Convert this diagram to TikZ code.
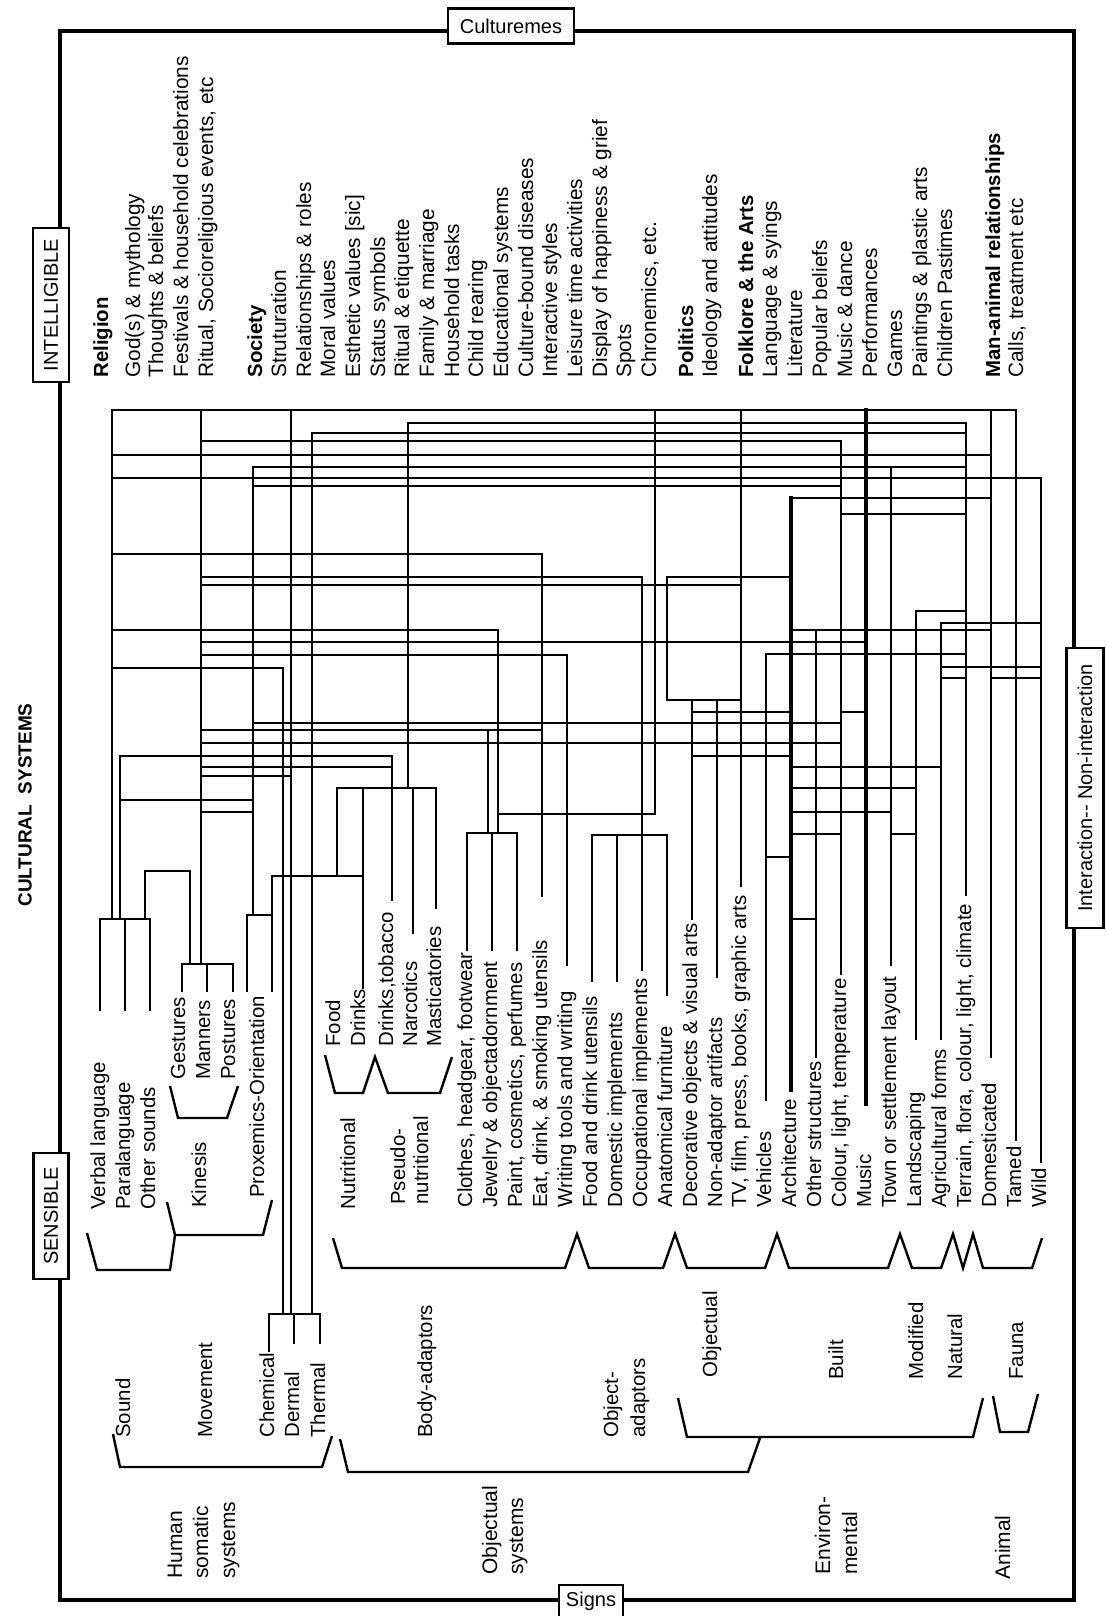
\documentclass[tikz,border=0pt]{standalone}
\usepackage{fontspec}
\newfontfamily\lsans{Liberation Sans}
\begin{document}
\begin{tikzpicture}[x=0.5pt,y=-0.5pt,
  wire/.style={line width=1.2pt,line cap=rect},
  twire/.style={line width=1.9pt,line cap=rect},
  brk/.style={line width=1.2pt,line join=miter},
  lab/.style={rotate=90,anchor=west,inner sep=0pt,text height=7pt,text depth=2pt,font=\lsans\fontsize{10.2}{12}\selectfont},
  ilab/.style={lab,font=\lsans\fontsize{10.4}{12}\selectfont},
  blab/.style={lab,font=\lsans\bfseries\fontsize{10.2}{12}\selectfont},
  glab/.style={lab,font=\lsans\fontsize{10.5}{12}\selectfont},
  tag/.style={draw,line width=1.4pt,fill=white,inner sep=0pt,font=\lsans\fontsize{10}{12}\selectfont},
]
\useasboundingbox (0,0) rectangle (1105,1616);
\fill[white] (0,0) rectangle (1105,1616);
% frame
\draw[line width=1.6pt] (60,31) rectangle (1074,1600);

% ---------------- wires: verticals
\foreach \x/\a/\b in {112/410/919, 201/410/964, 291/410/1314, 655/410/814,
  741/410/886, 991/410/1057, 1016/410/1140, 312/433/1314, 253/467/915,
  408/423/788, 966/423/895, 841/441/974, 891/467/965, 1041/478/1162,
  542/554/896, 642/577/970, 667/577/700, 916/611/1039, 941/623/1039,
  816/630/1057, 498/630/833, 567/655/965, 283/668/1314, 766/654/1100,
  692/700/919, 717/700/977, 120/756/919, 488/730/833, 392/756/900,
  337/788/876, 363/788/988, 413/788/933, 436/788/908, 145/871/919,
  190/871/964, 272/876/991, 247/915/991, 100/919/1010, 125/919/1010,
  150/919/1010, 182/964/991, 207/964/991, 233/964/991, 467/833/950,
  492/833/950, 517/833/950, 592/835/981, 617/835/981, 667/835/995,
  269/1314/1351, 294/1314/1343, 320/1314/1343}
  \draw[wire] (\x,\a) -- (\x,\b);
\foreach \x/\a/\b in {866/410/1104, 791/498/1090}
  \draw[twire] (\x,\a) -- (\x,\b);
% ---------------- wires: horizontals
\foreach \y/\a/\b in {410/112/1016, 423/408/966, 433/312/966, 441/201/841,
  455/112/991, 467/253/966, 478/112/1041, 486/253/841, 498/791/991,
  514/841/966, 554/112/542, 577/201/642, 577/667/791, 585/201/741,
  611/916/966, 623/941/1041, 630/112/498, 630/791/991, 642/201/866,
  654/766/966, 655/201/567, 667/941/1041, 668/112/283, 678/941/966,
  678/991/1041, 700/667/741, 712/692/791, 712/841/866, 723/253/841,
  730/201/542, 743/201/841, 756/120/392, 756/692/791, 767/201/392,
  767/791/941, 776/201/291, 788/337/436, 788/791/916, 800/120/253,
  812/201/253, 812/791/891, 814/498/655, 833/467/517, 834/791/841,
  834/891/916, 835/592/667, 857/766/791, 871/145/190, 876/272/363,
  915/247/272, 919/100/150, 919/791/816, 964/182/233, 1314/269/320}
  \draw[wire] (\a,\y) -- (\b,\y);

% ---------------- brackets
\draw[brk] (87,1233) -- (97,1270) -- (170,1270) -- (175,1235) -- (167,1202);
\draw[brk] (175,1235) -- (263,1235) -- (272,1200);
\draw[brk] (170,1086) -- (178,1118) -- (227,1118) -- (238,1086);
\draw[brk] (325,1055) -- (335,1093) -- (363,1093) -- (375,1057) -- (388,1093) -- (440,1093) -- (452,1057);
\draw[brk] (333,1238) -- (342,1268) -- (565,1268) -- (577,1234) -- (589,1268) -- (663,1268) -- (675,1234) -- (687,1268) -- (765,1268) -- (777,1234) -- (789,1268) -- (888,1268) -- (900,1234) -- (912,1268) -- (941,1268) -- (953,1234) -- (963,1268) -- (973,1234) -- (983,1268) -- (1032,1268) -- (1042,1238);
\draw[brk] (113,1434) -- (120,1467) -- (322,1467) -- (332,1436);
\draw[brk] (340,1439) -- (348,1472) -- (748,1472) -- (760,1438);
\draw[brk] (678,1398) -- (687,1437) -- (973,1437) -- (983,1398);
\draw[brk] (993,1396) -- (1000,1432) -- (1028,1432) -- (1038,1394);

% ---------------- intelligible texts
\node[blab] (religion) at (103,378) {Religion};
\node[blab] (society) at (257,378) {Society};
\node[blab] (politics) at (688,378) {Politics};
\node[blab] (folklore) at (748,378) {Folklore \& the Arts};
\node[blab] (mananimal) at (995,378) {Man-animal relationships};
\foreach \x/\t [count=\i] in {135/{God(s) \& mythology}, 158/{Thoughts \& beliefs},
  183/{Festivals \& household celebrations}, 208/{Ritual, Socioreligious events, etc},
  281/{Struturation}, 306/{Relationships \& roles}, 330/{Moral values},
  355/{Esthetic values [sic]}, 380/{Status symbols}, 404/{Ritual \& etiquette},
  429/{Family \& marriage}, 454/{Household tasks}, 478/{Child rearing},
  503/{Educational systems}, 528/{Culture-bound diseases}, 552/{Interactive styles},
  577/{Leisure time activities}, 602/{Display of happiness \& grief}, 626/{Spots},
  651/{Chronemics, etc.}, 712/{Ideology and attitudes}, 772/{Language \& syings},
  797/{Literature}, 822/{Popular beliefs}, 847/{Music \& dance}, 872/{Performances},
  897/{Games}, 922/{Paintings \& plastic arts}, 947/{Children Pastimes},
  1018/{Calls, treatment etc}}
  \node[ilab] (int\i) at (\x,378) {\t};

% ---------------- sensible texts
\foreach \x/\y/\t [count=\i] in {100/1210/{Verbal language}, 125/1210/{Paralanguage},
  150/1210/{Other sounds}, 201/1208/{Kinesis}, 259/1198/{Proxemics-Orientation},
  350/1210/{Nutritional}, 400/1205/{Pseudo-}, 423/1205/{nutritional},
  180/1080/{Gestures}, 205/1080/{Manners}, 230/1080/{Postures},
  335/1047/{Food}, 360/1047/{Drinks}, 388/1047/{Drinks,tobacco},
  412/1047/{Narcotics}, 436/1047/{Masticatories}}
  \node[lab] (sa\i) at (\x,\y) {\t};
\foreach \x/\t [count=\i] in {467/{Clothes, headgear, footwear}, 492/{Jewelry \& objectadornment},
  517/{Paint, cosmetics, perfumes}, 542/{Eat, drink, \& smoking utensils},
  567/{Writing tools and writing}, 592/{Food and drink utensils},
  617/{Domestic implements}, 642/{Occupational implements}, 667/{Anatomical furniture},
  692/{Decorative objects \& visual arts}, 717/{Non-adaptor artifacts},
  741/{TV, film, press, books, graphic arts}, 766/{Vehicles}, 791/{Architecture},
  816/{Other structures}, 841/{Colour, light, temperature}, 866/{Music},
  891/{Town or settlement layout}, 916/{Landscaping}, 941/{Agricultural forms},
  966/{Terrain, flora, colour, light, climate}, 991/{Domesticated}, 1016/{Tamed},
  1041/{Wild}}
  \node[lab] (sb\i) at (\x,1208) {\t};

% ---------------- group labels
\foreach \x/\y/\t [count=\i] in {125/1438/{Sound}, 207/1438/{Movement},
  269/1438/{Chemical}, 294/1438/{Dermal}, 320/1438/{Thermal},
  427/1438/{Body-adaptors}, 613/1438/{Object-}, 640/1438/{adaptors},
  712/1378/{Objectual}, 838/1380/{Built}, 918/1380/{Modified},
  957/1380/{Natural}, 1018/1380/{Fauna}}
  \node[lab] (g\i) at (\x,\y) {\t};
\foreach \x/\y/\t [count=\i] in {177/1579/{Human}, 203/1579/{somatic}, 230/1579/{systems},
  492/1575/{Objectual}, 518/1575/{systems}, 825/1575/{Environ-}, 852/1575/{mental},
  1005/1580/{Animal}}
  \node[glab] (h\i) at (\x,\y) {\t};

% ---------------- tags
\node[tag,rotate=90,minimum width=77pt,minimum height=18pt] (intel) at (51,305) {INTELLIGIBLE};
\node[tag,rotate=90,minimum width=63pt,minimum height=17.5pt] (sens) at (51,1216) {SENSIBLE};
\node[tag,minimum width=63pt,minimum height=17.5pt] (cult) at (511,26) {Culturemes};
\node[tag,minimum width=32pt,minimum height=16pt] (signs) at (591,1601) {Signs};
\node[tag,rotate=90,minimum width=140pt,minimum height=18.5pt] (inter) at (1085,788) {Interaction-{}- Non-interaction};
\node[rotate=90,inner sep=0pt,font=\lsans\bfseries\fontsize{9.5}{11}\selectfont] (cs) at (25,805) {CULTURAL\ \ SYSTEMS};
\end{tikzpicture}
\end{document}
